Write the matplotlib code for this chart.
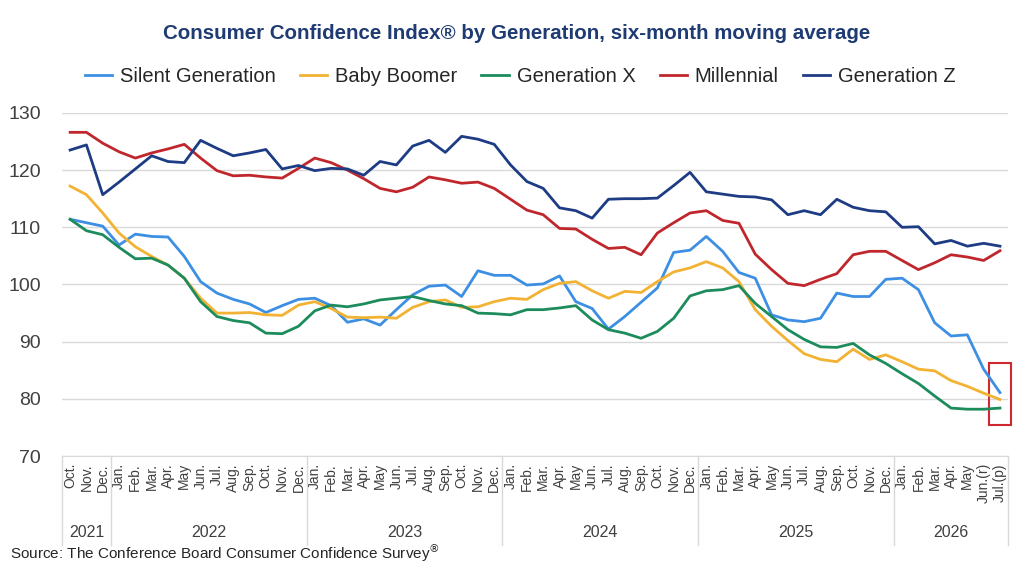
import numpy as np
import matplotlib
matplotlib.use("Agg")
from matplotlib import pyplot as plt
from matplotlib.patches import Rectangle

plt.rcParams['font.family'] = ['Liberation Sans', 'DejaVu Sans']

# month labels, Oct 2021 .. Jul 2026
months = (['Oct.', 'Nov.', 'Dec.']
          + ['Jan.', 'Feb.', 'Mar.', 'Apr.', 'May', 'Jun.', 'Jul.', 'Aug.', 'Sep.', 'Oct.', 'Nov.', 'Dec.'] * 4
          + ['Jan.', 'Feb.', 'Mar.', 'Apr.', 'May', 'Jun.(r)', 'Jul.(p)'])
years = ['2021', '2022', '2023', '2024', '2025', '2026']
months_per_year = [3, 12, 12, 12, 12, 7]

silent = [111.4, 110.8, 110.2, 106.9, 108.8, 108.4, 108.3, 104.9, 100.5, 98.5,
          97.4, 96.6, 95.1, 96.3, 97.4, 97.6, 96.3, 93.4, 94.0, 92.9,
          95.6, 98.2, 99.7, 99.9, 97.9, 102.4, 101.6, 101.6, 99.9, 100.1,
          101.5, 97.0, 95.8, 92.2, 94.4, 96.9, 99.4, 105.6, 106.0, 108.4,
          105.8, 102.1, 101.1, 94.7, 93.8, 93.5, 94.1, 98.5, 97.9, 97.9,
          100.9, 101.1, 99.1, 93.3, 91.0, 91.2, 85.2, 81.1]
boomer = [117.2, 115.7, 112.5, 109.0, 106.6, 104.9, 103.4, 101.1, 97.6, 95.0,
          95.0, 95.1, 94.7, 94.6, 96.4, 97.0, 95.8, 94.3, 94.2, 94.3,
          94.1, 96.0, 97.0, 97.3, 96.0, 96.1, 97.0, 97.6, 97.4, 99.1,
          100.2, 100.5, 98.9, 97.6, 98.8, 98.6, 100.5, 102.2, 102.9, 104.0,
          102.9, 100.5, 95.6, 92.7, 90.2, 87.9, 86.9, 86.5, 88.7, 86.9,
          87.7, 86.5, 85.2, 84.9, 83.2, 82.2, 81.0, 79.9]
gen_x = [111.4, 109.4, 108.7, 106.5, 104.5, 104.6, 103.4, 101.1, 97.0, 94.4,
         93.7, 93.3, 91.5, 91.4, 92.7, 95.4, 96.4, 96.1, 96.6, 97.3,
         97.6, 97.9, 97.2, 96.6, 96.3, 95.0, 94.9, 94.7, 95.6, 95.6,
         95.9, 96.3, 93.8, 92.1, 91.5, 90.6, 91.8, 94.1, 98.0, 98.9,
         99.1, 99.8, 96.7, 94.4, 92.1, 90.4, 89.1, 89.0, 89.7, 87.7,
         86.2, 84.4, 82.7, 80.5, 78.4, 78.2, 78.2, 78.4]
millennial = [126.6, 126.6, 124.7, 123.2, 122.1, 123.0, 123.7, 124.5, 122.1, 119.9,
              119.0, 119.1, 118.8, 118.6, 120.3, 122.1, 121.3, 120.0, 118.5, 116.8,
              116.2, 117.0, 118.8, 118.3, 117.7, 117.9, 116.8, 114.9, 113.0, 112.2,
              109.8, 109.7, 107.9, 106.3, 106.5, 105.2, 109.0, 110.8, 112.5, 112.9,
              111.2, 110.7, 105.3, 102.6, 100.2, 99.8, 100.9, 101.9, 105.2, 105.8,
              105.8, 104.2, 102.6, 103.8, 105.2, 104.8, 104.2, 105.9]
gen_z = [123.5, 124.4, 115.7, 117.9, 120.2, 122.5, 121.5, 121.3, 125.2, 123.8,
         122.5, 123.0, 123.6, 120.2, 120.8, 119.9, 120.3, 120.2, 119.1, 121.5,
         120.9, 124.2, 125.2, 123.1, 125.9, 125.4, 124.5, 120.9, 118.0, 116.8,
         113.4, 112.9, 111.6, 114.9, 115.0, 115.0, 115.1, 117.3, 119.6, 116.2,
         115.8, 115.4, 115.3, 114.8, 112.2, 112.9, 112.2, 114.9, 113.5, 112.9,
         112.7, 110.0, 110.1, 107.1, 107.7, 106.7, 107.2, 106.7]

series = [('Silent Generation', silent, '#3d8fe3'),
          ('Baby Boomer', boomer, '#f2b233'),
          ('Generation X', gen_x, '#1c8c5c'),
          ('Millennial', millennial, '#c0272d'),
          ('Generation Z', gen_z, '#1d3c84')]

fig = plt.figure(figsize=(10.24, 5.73), dpi=100)
ax = fig.add_axes([0.0605, 0.204, 0.924, 0.599])

x = np.arange(len(months))
for name, vals, col in series:
    ax.plot(x, vals, color=col, lw=2.0, label=name, solid_joinstyle='round')

ax.set_xlim(-0.5, len(months) - 0.5)
ax.set_ylim(70, 130)
ax.set_yticks(range(70, 131, 10))
ax.yaxis.grid(True, color='#d9d9d9', lw=1.0)
ax.set_axisbelow(True)
for s in ['top', 'right', 'left']:
    ax.spines[s].set_visible(False)
ax.spines['bottom'].set_color('#d9d9d9')
ax.tick_params(axis='y', length=0, labelsize=14, pad=15, labelcolor='#404040')
ax.set_xticks(x)
ax.set_xticklabels(months, rotation=90, fontsize=10, color='#404040', va='top')
ax.tick_params(axis='x', length=0, pad=5)

# year labels and separators under the month labels
trans = ax.get_xaxis_transform()
start = -0.5
bounds = [start]
for yr, n in zip(years, months_per_year):
    ax.text(start + n / 2, -0.222, yr, transform=trans, ha='center', va='center',
            fontsize=11.5, color='#404040')
    start += n
    bounds.append(start)
for b in bounds:
    ax.plot([b, b], [0, -0.26], transform=trans, color='#d9d9d9', lw=1.0, clip_on=False)

# red box round the latest month
last = len(months) - 1
ax.add_patch(Rectangle((last - 0.7, 75.5), 1.4, 10.8, fill=False, ec='#d0282e', lw=1.5,
                       clip_on=False))

fig.text(0.505, 0.942, 'Consumer Confidence Index® by Generation, six-month moving average',
         ha='center', va='center', fontsize=14.8, fontweight='bold', color='#1f3b73')
fig.legend(loc='center', bbox_to_anchor=(0.508, 0.867), ncol=5, frameon=False,
           fontsize=14.5, handlelength=1.35, columnspacing=1.2, handletextpad=0.4,
           labelcolor='#262626')
fig.text(0.01, 0.036, r'Source: The Conference Board Consumer Confidence Survey$^{\circledR}$',
         ha='left', va='center', fontsize=11, color='#262626')

fig.savefig('out.png', dpi=100)
